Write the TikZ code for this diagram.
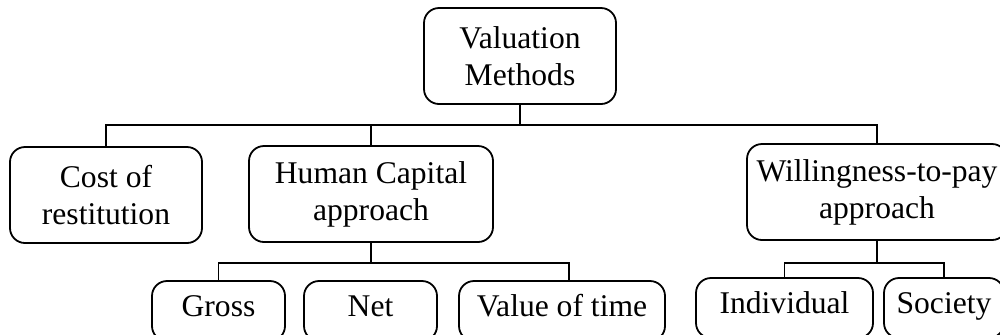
\documentclass[tikz,border=0pt]{standalone}
\usepackage{fontspec}
\setmainfont{Liberation Serif}
\usetikzlibrary{calc,positioning}

\begin{document}
\begin{tikzpicture}[x=0.5pt,y=-0.5pt,line width=0.9pt]
  \useasboundingbox (0,0) rectangle (1000,334);
  \begin{scope}[
    every node/.style={
      draw,
      rounded corners=7.5pt,
      align=center,
      inner sep=0pt,
      minimum height=48pt,
      font=\fontsize{15.8}{18.5}\selectfont,
    },
    ]
    \node[minimum width=96pt]  (valuation) at (520,56)  {Valuation\\Methods};
    \node[minimum width=96pt]  (cost)      at (106,195) {Cost of\\restitution};
    \node[minimum width=122pt] (human)     at (371,194) {Human Capital\\approach};
    \node[minimum width=130pt] (wtp)       at (877,192) {Willingness-to-pay\\approach};
  \end{scope}
  \begin{scope}[
    every node/.style={
      draw,
      rounded corners=7.5pt,
      align=center,
      inner sep=0pt,
      minimum height=30pt,
      text height=1.6ex,
      text depth=0.5ex,
      font=\fontsize{15.8}{18.5}\selectfont,
    },
    ]
    \node[minimum width=66.5pt] (gross)      at (218.5,311) {Gross};
    \node[minimum width=66.5pt] (net)        at (370.5,311) {Net};
    \node[minimum width=103pt]  (valuetime)  at (562,311)   {Value of time};
    \node[minimum width=88.5pt] (individual) at (784.5,308) {Individual};
    \node[minimum width=60pt]   (society)    at (944,308)   {Society};
  \end{scope}
  \coordinate[below=10pt of valuation.south] (top-bus);
  \coordinate[below=10pt of human.south]     (human-bus);
  \coordinate[below=11pt of wtp.south]       (wtp-bus);
  \begin{scope}[every path/.style={draw}]
    \path (valuation.south) -- (valuation.south |- top-bus);
    \path (cost.north) -- (cost.north |- top-bus) -- (wtp.north |- top-bus) -- (wtp.north);
    \path (human.north) -- (human.north |- top-bus);
    \path (human.south) -- (human-bus);
    \path (gross.north) -- (gross.north |- human-bus) -- ([xshift=3.5pt]valuetime.north |- human-bus)
      -- ([xshift=3.5pt]valuetime.north);
    \path (wtp.south) -- (wtp-bus);
    \path (individual.north) -- (individual.north |- wtp-bus) -- (society.north |- wtp-bus) -- (society.north);
  \end{scope}
\end{tikzpicture}
\end{document}
